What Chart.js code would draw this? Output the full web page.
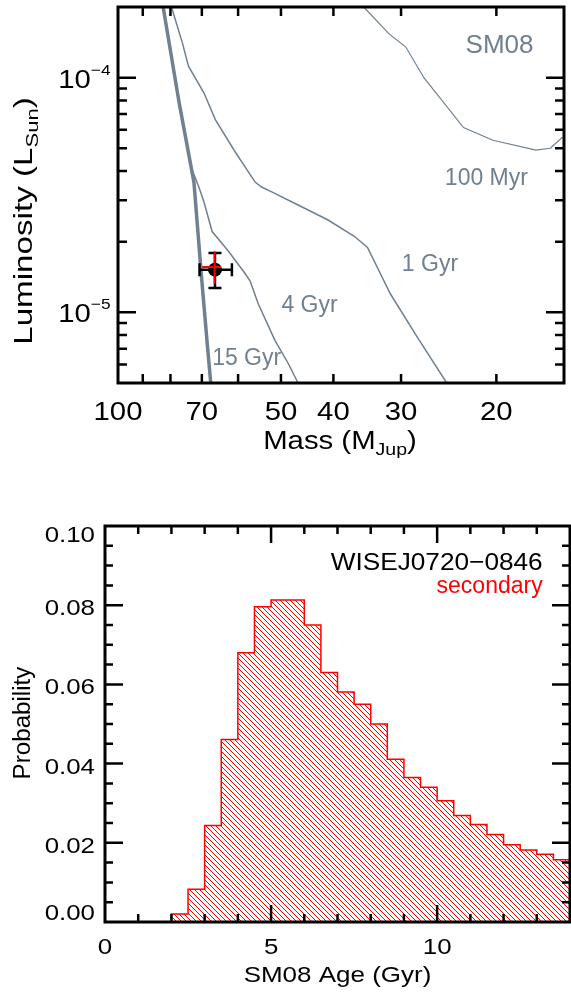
<!DOCTYPE html>
<html>
<head>
<meta charset="utf-8">
<script src="https://cdn.jsdelivr.net/npm/chart.js@4.4.1/dist/chart.umd.min.js"></script>
<style>
  html, body { margin: 0; padding: 0; background: #fff; }
  canvas { display: block; position: absolute; left: 0; }
  #massLum { top: 0; }
  #ageHist { top: 470px; }
</style>
</head>
<body>
<canvas id="massLum" width="571" height="470"></canvas>
<canvas id="ageHist" width="571" height="523"></canvas>
<script>
// SM08 isochrones (mass in M_Jup, luminosity in L_sun)
const iso15GyrMass = [82.5, 77.1, 72.4, 70.0, 68.5, 67.4];
const iso15GyrLum  = [1.99e-4, 7.82e-5, 3.59e-5, 1.36e-5, 7.6e-6, 5.0e-6];
const iso4GyrMass  = [82.5, 77.1, 73.3, 70.9, 69.4, 67.0, 62.5, 58.2, 57.0, 55.1, 51.3, 48.5, 46.5];
const iso4GyrLum   = [1.99e-4, 7.82e-5, 4.16e-5, 3.42e-5, 2.96e-5, 2.21e-5, 1.82e-5, 1.46e-5, 1.36e-5, 1.09e-5, 7.6e-6, 6.07e-6, 5.0e-6];
const iso1GyrMass  = [79.6, 76.0, 74.1, 69.4, 66.1, 60.7, 55.8, 54.3, 52.0, 47.8, 41.0, 36.6, 34.6, 31.4, 28.0, 24.7];
const iso1GyrLum   = [1.99e-4, 1.40e-4, 1.12e-4, 8.62e-5, 6.63e-5, 4.81e-5, 3.59e-5, 3.42e-5, 3.26e-5, 2.96e-5, 2.48e-5, 2.11e-5, 1.89e-5, 1.20e-5, 7.84e-6, 5.0e-6];
const iso100MyrMass = [35.1, 31.6, 29.4, 27.2, 23.0, 20.3, 16.9, 15.9, 15.1];
const iso100MyrLum  = [1.99e-4, 1.54e-4, 1.35e-4, 9.97e-5, 6.13e-5, 5.41e-5, 4.91e-5, 5.0e-5, 5.57e-5];

// the object: black point with errors, red = secondary
const objMass = 66.2, objLum = 1.52e-5;
const objMassRange = [61.6, 70.7], objLumRange = [1.27e-5, 1.79e-5];
const secMass = 66.3, secLum = 1.56e-5;
const secMassRange = [64.5, 69.9], secLumRange = [1.32e-5, 1.82e-5];

// axis ticks
const massTicks = [90, 80, 70, 60, 50, 40, 30, 20];
const massTickLabels = [100, 70, 50, 40, 30, 20];
const lumMajorTicks = [1e-4, 1e-5];
const lumMinorTicks = [6e-6, 7e-6, 8e-6, 9e-6, 2e-5, 3e-5, 4e-5, 5e-5, 6e-5, 7e-5, 8e-5, 9e-5];
const lumTickExp = ['−4', '−5'];

// SM08 age histogram (0.5 Gyr bins)
const ageBinLeft = [2.0, 2.5, 3.0, 3.5, 4.0, 4.5, 5.0, 5.5, 6.0, 6.5, 7.0, 7.5,
                    8.0, 8.5, 9.0, 9.5, 10.0, 10.5, 11.0, 11.5, 12.0, 12.5, 13.0, 13.5];
const ageProb = [0.0020, 0.0083, 0.0244, 0.0461, 0.0680, 0.0796, 0.0813, 0.0813, 0.0750, 0.0630, 0.0581, 0.0550,
                 0.0500, 0.0411, 0.0365, 0.0340, 0.0306, 0.0269, 0.0246, 0.0221, 0.0195, 0.0182, 0.0171, 0.0157];
const ageBinEnd = 14.0;
const ageMajorTicks = [5, 10];
const ageMinorTicks = [1, 2, 3, 4, 6, 7, 8, 9, 11, 12, 13];
const ageTickLabels = [0, 5, 10];
const probMajorTicks = [0.02, 0.04, 0.06, 0.08];
const probMinorTicks = [0.005, 0.01, 0.015, 0.025, 0.03, 0.035, 0.045, 0.05, 0.055, 0.065, 0.07, 0.075, 0.085, 0.09, 0.095];
const probTickLabels = [0, 0.02, 0.04, 0.06, 0.08, 0.10];

const SLATE = 'rgb(112,128,144)';
const FAMILY = '"Liberation Sans", Arial, Helvetica, sans-serif';

function font(size) { return size + 'px ' + FAMILY; }

// draws a run of text pieces (for super/subscripts), stretched by sx
function drawParts(ctx, parts, x, y, align, sx, color) {
  ctx.save();
  ctx.fillStyle = color;
  ctx.textBaseline = 'alphabetic';
  ctx.textAlign = 'left';
  let w = 0;
  parts.forEach(p => { ctx.font = font(p.size); p.w = ctx.measureText(p.t).width * sx; w += p.w; });
  let cx = align === 'center' ? x - w / 2 : (align === 'right' ? x - w : x);
  parts.forEach(p => {
    ctx.font = font(p.size);
    ctx.save();
    ctx.translate(cx, y + (p.dy || 0));
    ctx.scale(sx, 1);
    ctx.fillText(p.t, 0, 0);
    ctx.restore();
    cx += p.w;
  });
  ctx.restore();
}

function drawRotated(ctx, parts, baseX, centerY, sx, color) {
  ctx.save();
  ctx.translate(baseX, centerY);
  ctx.rotate(-Math.PI / 2);
  drawParts(ctx, parts, 0, 0, 'center', sx, color);
  ctx.restore();
}

// IDL-style box with inward ticks on all four sides
function drawFrame(chart, xMajor, xMinor, yMajor, yMinor, len) {
  const { ctx, chartArea: a } = chart;
  const xs = chart.scales.x, ys = chart.scales.y;
  ctx.save();
  ctx.strokeStyle = '#000';
  ctx.lineCap = 'butt';
  ctx.lineWidth = 2.5;
  ctx.beginPath();
  const xt = (vals, l) => vals.forEach(v => {
    const p = xs.getPixelForValue(v);
    ctx.moveTo(p, a.bottom); ctx.lineTo(p, a.bottom - l);
    ctx.moveTo(p, a.top); ctx.lineTo(p, a.top + l);
  });
  const yt = (vals, l) => vals.forEach(v => {
    const p = ys.getPixelForValue(v);
    ctx.moveTo(a.left, p); ctx.lineTo(a.left + l, p);
    ctx.moveTo(a.right, p); ctx.lineTo(a.right - l, p);
  });
  xt(xMajor, len.xMajor); xt(xMinor, len.xMinor);
  yt(yMajor, len.yMajor); yt(yMinor, len.yMinor);
  ctx.stroke();
  ctx.lineWidth = 3;
  ctx.strokeRect(a.left, a.top, a.right - a.left, a.bottom - a.top);
  ctx.restore();
}

function errBars(ctx, xs, ys, m, L, mr, lr, color, width, cap) {
  const px = xs.getPixelForValue(m), py = ys.getPixelForValue(L);
  const x0 = xs.getPixelForValue(mr[0]), x1 = xs.getPixelForValue(mr[1]);
  const y0 = ys.getPixelForValue(lr[0]), y1 = ys.getPixelForValue(lr[1]);
  ctx.save();
  ctx.strokeStyle = color;
  ctx.lineWidth = width;
  ctx.beginPath();
  ctx.moveTo(x0, py); ctx.lineTo(x1, py);
  ctx.moveTo(px, y0); ctx.lineTo(px, y1);
  if (cap) {
    [x0, x1].forEach(x => { ctx.moveTo(x, py - cap / 2); ctx.lineTo(x, py + cap / 2); });
    [y0, y1].forEach(y => { ctx.moveTo(px - cap / 2, y); ctx.lineTo(px + cap / 2, y); });
  }
  ctx.stroke();
  ctx.restore();
}

function toPoints(xArr, yArr) { return xArr.map((x, i) => ({ x: x, y: yArr[i] })); }

// ---------- top panel: mass vs luminosity ----------
const isoLabels = [
  { t: 'SM08', m: 22.8, L: 1.27e-4, size: 26 },
  { t: '100 Myr', m: 24.9, L: 3.48e-5, size: 23 },
  { t: '1 Gyr', m: 29.9, L: 1.5e-5, size: 23 },
  { t: '4 Gyr', m: 49.9, L: 1.0e-5, size: 23 },
  { t: '15 Gyr', m: 67.0, L: 5.96e-6, size: 23 }
];

const massLumDecor = {
  id: 'massLumDecor',
  afterDatasetsDraw(chart) {
    const { ctx } = chart;
    const xs = chart.scales.x, ys = chart.scales.y;
    errBars(ctx, xs, ys, objMass, objLum, objMassRange, objLumRange, '#000', 2.5, 13);
    errBars(ctx, xs, ys, secMass, secLum, secMassRange, secLumRange, '#ff0000', 2, 0);
  },
  afterDraw(chart) {
    const { ctx, chartArea: a } = chart;
    const xs = chart.scales.x, ys = chart.scales.y;
    drawFrame(chart, [], massTicks, lumMajorTicks, lumMinorTicks,
      { xMajor: 9, xMinor: 9, yMajor: 18, yMinor: 9 });

    isoLabels.forEach(l => {
      drawParts(ctx, [{ t: l.t, size: l.size }], xs.getPixelForValue(l.m), ys.getPixelForValue(l.L), 'left', 1, SLATE);
    });

    massTickLabels.forEach(v => {
      drawParts(ctx, [{ t: String(v), size: 25.5 }], xs.getPixelForValue(v), a.bottom + 37, 'center', 1.15, '#000');
    });
    lumMajorTicks.forEach((v, i) => {
      const p = ys.getPixelForValue(v);
      drawParts(ctx, [{ t: '10', size: 25.5 }, { t: lumTickExp[i], size: 15, dy: -13 }], 110.5, p + 10, 'right', 1.15, '#000');
    });

    drawParts(ctx, [{ t: 'Mass (M', size: 25.5 }, { t: 'Jup', size: 17, dy: 6 }, { t: ')', size: 25.5 }],
      (a.left + a.right) / 2 - 1, 448.5, 'center', 1.15, '#000');
    drawRotated(ctx, [{ t: 'Luminosity (L', size: 25.5 }, { t: 'Sun', size: 17, dy: 6 }, { t: ')', size: 25.5 }],
      32, 221, 1.3, '#000');
  }
};

new Chart(document.getElementById('massLum'), {
  type: 'scatter',
  data: {
    datasets: [
      { data: [{ x: objMass, y: objLum }], pointRadius: 7, pointBackgroundColor: '#000', pointBorderWidth: 0 },
      { data: toPoints(iso15GyrMass, iso15GyrLum), showLine: true, pointRadius: 0, borderColor: SLATE, borderWidth: 3.5 },
      { data: toPoints(iso4GyrMass, iso4GyrLum), showLine: true, pointRadius: 0, borderColor: SLATE, borderWidth: 1.5 },
      { data: toPoints(iso1GyrMass, iso1GyrLum), showLine: true, pointRadius: 0, borderColor: SLATE, borderWidth: 1.5 },
      { data: toPoints(iso100MyrMass, iso100MyrLum), showLine: true, pointRadius: 0, borderColor: SLATE, borderWidth: 1.2 }
    ]
  },
  options: {
    responsive: false,
    animation: false,
    devicePixelRatio: 1,
    layout: { padding: { left: 118, right: 3, top: 4, bottom: 87 } },
    plugins: { legend: { display: false }, tooltip: { enabled: false } },
    scales: {
      x: { type: 'logarithmic', reverse: true, min: 15, max: 100, display: false },
      y: { type: 'logarithmic', min: 5e-6, max: 2e-4, display: false }
    }
  },
  plugins: [massLumDecor]
});

// ---------- bottom panel: age histogram ----------
function makeHatch() {
  const c = document.createElement('canvas');
  c.width = 5; c.height = 5;
  const g = c.getContext('2d');
  g.strokeStyle = '#ff0000';
  g.lineWidth = 1;
  g.beginPath();
  g.moveTo(-1, -1); g.lineTo(6, 6);
  g.moveTo(-1, 4); g.lineTo(1, 6);
  g.moveTo(4, -1); g.lineTo(6, 1);
  g.stroke();
  return g.createPattern(c, 'repeat');
}

const histPoints = [{ x: ageBinLeft[0], y: 0 }]
  .concat(toPoints(ageBinLeft, ageProb))
  .concat([{ x: ageBinEnd, y: ageProb[ageProb.length - 1] }]);

const histDecor = {
  id: 'histDecor',
  afterDraw(chart) {
    const { ctx, chartArea: a } = chart;
    const xs = chart.scales.x, ys = chart.scales.y;
    drawFrame(chart, ageMajorTicks, ageMinorTicks, probMajorTicks, probMinorTicks,
      { xMajor: 17, xMinor: 8, yMajor: 18, yMinor: 8 });

    ageTickLabels.forEach(v => {
      drawParts(ctx, [{ t: String(v), size: 22.5 }], xs.getPixelForValue(v), a.bottom + 31.5, 'center', 1.15, '#000');
    });
    const capH = 0.716 * 22.5;
    probTickLabels.forEach(v => {
      const p = ys.getPixelForValue(v);
      const c = Math.min(Math.max(p + 2, a.top + 8), a.bottom - 10);
      drawParts(ctx, [{ t: v.toFixed(2), size: 22.5 }], 95, c + capH / 2, 'right', 1.15, '#000');
    });

    drawParts(ctx, [{ t: 'SM08 Age (Gyr)', size: 22.5 }], (a.left + a.right) / 2, a.bottom + 59.5, 'center', 1.155, '#000');
    drawRotated(ctx, [{ t: 'Probability', size: 23 }], 30, 253, 1.05, '#000');

    drawParts(ctx, [{ t: 'WISEJ0720−0846', size: 24.5 }], 542.7, 100, 'right', 1.07, '#000');
    drawParts(ctx, [{ t: 'secondary', size: 23 }], 542.7, 123, 'right', 1, '#ff0000');
  }
};

new Chart(document.getElementById('ageHist'), {
  type: 'line',
  data: {
    datasets: [{
      data: histPoints,
      stepped: true,
      fill: 'origin',
      backgroundColor: makeHatch(),
      borderColor: '#ff0000',
      borderWidth: 1.5,
      pointRadius: 0
    }]
  },
  options: {
    responsive: false,
    animation: false,
    devicePixelRatio: 1,
    layout: { padding: { left: 105, right: 1, top: 56, bottom: 71 } },
    plugins: { legend: { display: false }, tooltip: { enabled: false } },
    scales: {
      x: { type: 'linear', min: 0, max: 14, display: false },
      y: { type: 'linear', min: 0, max: 0.1, display: false }
    }
  },
  plugins: [histDecor]
});
</script>
</body>
</html>
